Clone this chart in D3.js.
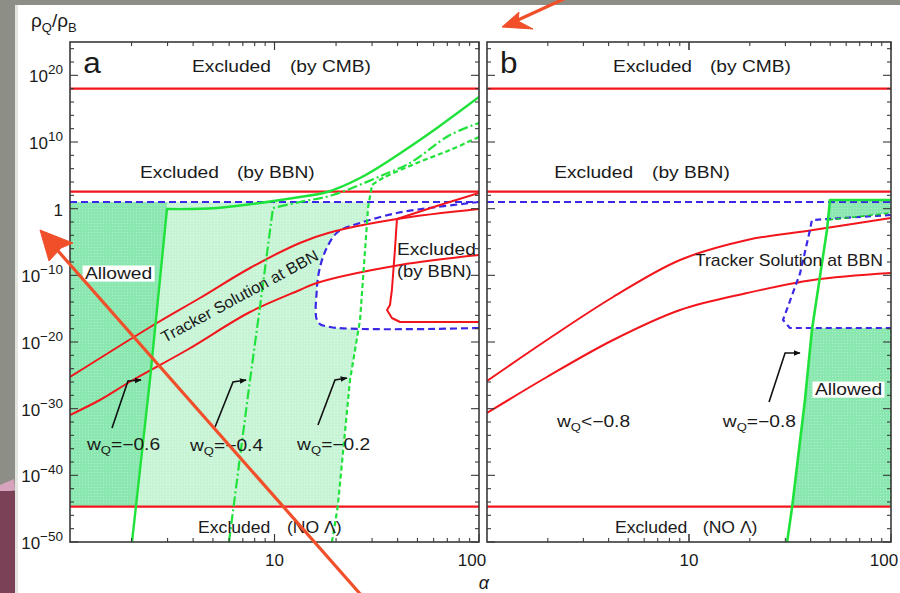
<!DOCTYPE html>
<html><head><meta charset="utf-8">
<script src="https://cdn.jsdelivr.net/npm/d3@7"></script>
<style>html,body{margin:0;padding:0;background:#8d8f86;} svg{display:block;}</style>
</head><body>
<svg id="c" width="900" height="593"></svg>
<script>
// ---- axis ticks ----
const yTickExps = [-50, -40, -30, -20, -10, 0, 10, 20];
const xTickLabels = [10, 100];

// ---- constraint levels, log10(rho_Q / rho_B) ----
const cmbLimit = 18;
const bbnLimit = 2.55;
const bbnBound = 1.0;     // blue dashed limit
const noLambda = -44.7;

// ---- panel a curves: [alpha, log10(rho_Q/rho_B)] ----
const trackerUpperA = [[1,-25.25],[2.66,-17.15],[4.32,-13.4],[7.59,-8.9],[13.3,-5.15],[18.3,-3.65],[39.7,-1.55],[100,-0.05]];
const trackerLowerA = [[1,-30.95],[1.40,-28.7],[2.03,-25.7],[3.73,-21.2],[7.59,-15.5],[13.3,-12.2],[16.1,-11.15],[41.1,-8.45],[100,-6.95]];
const bbnEdgeA = [[100,2.35],[64.4,0.55],[39.7,-1.55],[38.8,-6.2],[37.5,-12.2],[36.7,-14.45],[35.5,-15.2],[37.5,-16.4],[41.1,-17],[100,-17]];
const blueEdgeA = [[100,1.0],[62.3,0.25],[39.7,-0.65],[26.2,-2.15],[20.4,-3.5],[18.1,-5.75],[16.7,-8.75],[16.1,-12.2],[16.3,-17],[18.7,-17.75],[100,-17.9]];
// w_Q lines: steep rise, then the run above the BBN bound
const wq06 = [[2.01,-50],[2.46,-25.7],[2.98,-0.05],[5.23,0.1],[13.3,1.75],[18.1,2.5],[26.2,4.6],[36.7,7.3],[49.7,10],[62.3,12.1],[100,16.75]];
const wq04 = [[5.99,-50],[7.59,-25.7],[8.49,-14.75],[9.83,0.1],[13.3,1.0],[19.3,2.05],[33.9,5.05],[46.0,6.85],[72.1,11.05],[100,12.85]];
const wq02 = [[19.1,-50],[20.4,-44.6],[23.4,-25.7],[26.2,-16.7],[28.7,0.25],[30.0,3.55],[33.9,4.6],[49.7,6.85],[72.1,8.8],[100,10.75]];
const wq06Bend = 2, wq04Bend = 3, wq02Bend = 5;

// ---- panel b curves ----
const trackerUpperB = [[1,-25.85],[1.98,-19.7],[4.21,-13.25],[9.03,-7.7],[19.4,-4.7],[41.1,-3.2],[100,-1.4]];
const trackerLowerB = [[1,-30.65],[1.98,-25.25],[4.21,-19.7],[9.03,-15.2],[19.4,-12.65],[41.1,-10.7],[100,-9.65]];
const blueEdgeB = [[100,-0.95],[40.6,-1.7],[39.7,-3.2],[35.5,-9.65],[29.2,-16.7],[31.6,-17.9],[100,-17.9]];
const wq08 = [[30.6,-50],[32.4,-44.75],[37.5,-28.7],[40.6,-18.2],[48.2,-3.2],[49.9,1.3],[100,1.3]];
const greenDashB = [[48.8,-1.7],[100,-0.65]];

// ---- annotation arrows: tail, bend, head ----
const arrowsA = [
  [[1.605,-32.9],[1.921,-25.85],[2.225,-25.7]],
  [[5.12,-32.75],[6.27,-26.0],[7.26,-25.7]],
  [[16.32,-32.45],[19.76,-25.7],[22.6,-25.4]]
];
const arrowsB = [[[24.9,-29.0],[29.9,-21.65],[35.4,-21.65]]];

const svg = d3.select('#c');
const W = 900, H = 593;
const FONT = "'Liberation Sans', Arial, Helvetica, sans-serif";

// ---- backdrop: slide surface and paper ----
svg.append('rect').attr('width', W).attr('height', H).attr('fill', '#8d8f86');
svg.append('rect').attr('x', 17).attr('y', 5).attr('width', W - 17).attr('height', H - 5).attr('fill', '#ffffff');
svg.append('rect').attr('x', 15).attr('y', 5).attr('width', 3).attr('height', H).attr('fill', '#e4e4e0');
svg.append('path').attr('d', 'M0,485 L14,479 L15,490 L0,493 Z').attr('fill', '#d7a2bb');
svg.append('rect').attr('x', 0).attr('y', 491).attr('width', 15).attr('height', 102).attr('fill', '#7b4257');

const defs = svg.append('defs');
function stipple(id, base, dot) {
  const p = defs.append('pattern').attr('id', id).attr('patternUnits', 'userSpaceOnUse')
    .attr('width', 3).attr('height', 3);
  p.append('rect').attr('width', 3).attr('height', 3).attr('fill', base);
  p.append('rect').attr('x', 1).attr('y', 1).attr('width', 1).attr('height', 1).attr('fill', dot);
}
stipple('dark', '#8ae7af', '#acf0c7');
stipple('light', '#c8f4d6', '#def9e7');
defs.append('marker').attr('id', 'ah').attr('viewBox', '0 0 10 10').attr('refX', 9).attr('refY', 5)
  .attr('markerWidth', 7).attr('markerHeight', 7).attr('markerUnits', 'userSpaceOnUse').attr('orient', 'auto')
  .append('path').attr('d', 'M0,1 L10,5 L0,9 Z').attr('fill', '#111');
const blur = defs.append('filter').attr('id', 'soft');
blur.append('feGaussianBlur').attr('stdDeviation', 0.7);

const y = d3.scaleLinear().domain([-50, 25]).range([542, 42]);
const panels = [
  { id: 'a', x: d3.scaleLog().domain([1, 100]).range([70, 479]) },
  { id: 'b', x: d3.scaleLog().domain([1, 100]).range([487, 891]) }
];

const RED = '#f2161c', GREEN = '#1fe23a', BLUE = '#3a28e6';

function lineGen(x, curve) {
  return d3.line().x(d => x(d[0])).y(d => y(d[1])).curve(curve || d3.curveLinear);
}

function label(g, x, xv, yv, str, o = {}) {
  const size = o.size || 16, st = o.stretch || 1.2;
  const grp = g.append('g')
    .attr('transform', `translate(${x(xv)},${y(yv)}) rotate(${o.rotate || 0}) scale(${st},1)`);
  const t = grp.append('text').attr('font-family', FONT).attr('font-size', size).attr('fill', '#1a1a1a')
    .attr('text-anchor', o.anchor || 'start');
  if (o.sub) {
    t.append('tspan').text(str[0]);
    t.append('tspan').attr('font-size', size * 0.68).attr('dy', 4).text(str[1]);
    t.append('tspan').attr('dy', -4).text(str[2]);
  } else t.text(str);
  if (o.bg) {
    const b = t.node().getBBox();
    grp.insert('rect', 'text').attr('x', b.x - 2).attr('y', b.y + 1).attr('width', b.width + 4)
      .attr('height', b.height - 2).attr('fill', '#fff');
  }
  return grp;
}

panels.forEach(p => {
  const x = p.x;
  const [x0, x1] = x.range();
  const g = svg.append('g');
  const clipId = 'clip' + p.id;
  defs.append('clipPath').attr('id', clipId).append('rect')
    .attr('x', x0).attr('y', y(25)).attr('width', x1 - x0).attr('height', y(-50) - y(25));
  const inner = g.append('g').attr('clip-path', `url(#${clipId})`);
  const L = lineGen(x);
  const S = lineGen(x, d3.curveCatmullRom.alpha(0.5));

  if (p.id === 'a') {
    // allowed band between the BBN bound and the NO-Lambda bound
    const band = 'bandA';
    defs.append('clipPath').attr('id', band).append('rect')
      .attr('x', x0).attr('y', y(bbnBound)).attr('width', x1 - x0).attr('height', y(noLambda) - y(bbnBound));
    const bandG = inner.append('g').attr('clip-path', `url(#${band})`);
    const steep06 = wq06.slice(0, wq06Bend + 1);
    const steep02 = wq02.slice(0, wq02Bend + 1);
    const lightPoly = [...steep06, [steep06[wq06Bend][0], 25], [steep02[wq02Bend][0], 25], ...steep02.slice().reverse()];
    const darkPoly = [[1, 25], [steep06[wq06Bend][0], 25], ...steep06.slice().reverse(), [1, -50]];
    bandG.append('path').attr('d', L(lightPoly) + 'Z').attr('fill', 'url(#light)');
    bandG.append('path').attr('d', L(darkPoly) + 'Z').attr('fill', 'url(#dark)');
    inner.append('path').attr('d', S(blueEdgeA) + 'Z').attr('fill', '#fff');
  } else {
    const band = 'bandB';
    const lowTop = blueEdgeB[blueEdgeB.length - 1][1];
    defs.append('clipPath').attr('id', band).append('rect')
      .attr('x', x0).attr('y', y(lowTop)).attr('width', x1 - x0).attr('height', y(noLambda) - y(lowTop));
    const lowPoly = [...wq08.slice(0, 6), [100, wq08[5][1]], [100, -50]];
    inner.append('g').attr('clip-path', `url(#${band})`)
      .append('path').attr('d', L(lowPoly) + 'Z').attr('fill', 'url(#dark)');
    const topPatch = [wq08[5], wq08[6], ...greenDashB.slice().reverse()];
    inner.append('path').attr('d', L(topPatch) + 'Z').attr('fill', 'url(#dark)');
  }

  // horizontal limits
  const hl = (v, col, dash, w) => inner.append('path').attr('d', L([[1, v], [100, v]]))
    .attr('stroke', col).attr('stroke-width', w || 2).attr('fill', 'none').attr('stroke-dasharray', dash || null);
  hl(cmbLimit, RED, null, 2.2);
  hl(bbnLimit, RED, null, 2.2);
  hl(noLambda, RED, null, 2.2);
  hl(bbnBound, BLUE, '7,4', 2.2);

  const draw = (data, col, gen, dash, w) => inner.append('path').attr('d', gen(data)).attr('fill', 'none')
    .attr('stroke', col).attr('stroke-width', w || 2).attr('stroke-dasharray', dash || null)
    .attr('stroke-linejoin', 'round');
  // steep part straight, the run above it smooth
  const bent = (data, k) => L(data.slice(0, k + 1)) + S(data.slice(k)).replace(/^M[^A-Za-z]*/, '');

  if (p.id === 'a') {
    draw(blueEdgeA, BLUE, S, '7,4', 2.2);
    draw(trackerUpperA, RED, S, null, 2);
    draw(trackerLowerA, RED, S, null, 2);
    draw(bbnEdgeA, RED, L, null, 2);
    draw(wq06, GREEN, d => bent(d, wq06Bend), null, 2.4);
    draw(wq04, GREEN, d => bent(d, wq04Bend), '10,3,2,3', 2.2);
    draw(wq02, GREEN, d => bent(d, wq02Bend), '5,3', 2.2);
  } else {
    draw(trackerUpperB, RED, S, null, 2);
    draw(trackerLowerB, RED, S, null, 2);
    draw(blueEdgeB, BLUE, L, '6,4', 2.2);
    draw(greenDashB, '#18c832', L, '5,3', 1.6);
    draw([[100, -17.9], [100, noLambda]], '#18c832', L, '5,3', 1.6);
    draw(wq08, GREEN, L, null, 2.6);
  }

  // frame and inward ticks
  g.append('rect').attr('x', x0).attr('y', y(25)).attr('width', x1 - x0).attr('height', y(-50) - y(25))
    .attr('fill', 'none').attr('stroke', '#3a3a3a').attr('stroke-width', 1.6);
  const tk = g.append('g').attr('stroke', '#3a3a3a').attr('stroke-width', 1.1);
  for (let e = -50; e <= 24; e += 2) {
    const len = e % 10 === 0 ? 8 : 4;
    tk.append('line').attr('x1', x0).attr('x2', x0 + len).attr('y1', y(e)).attr('y2', y(e));
    tk.append('line').attr('x1', x1).attr('x2', x1 - len).attr('y1', y(e)).attr('y2', y(e));
  }
  [1, 10].forEach(dec => {
    for (let k = 1; k <= 10; k++) {
      const v = k * dec;
      if (v > 100 || (k === 1 && dec === 1)) continue;
      const len = (k === 1 || k === 10) ? 8 : 4;
      tk.append('line').attr('x1', x(v)).attr('x2', x(v)).attr('y1', y(-50)).attr('y2', y(-50) - len);
      tk.append('line').attr('x1', x(v)).attr('x2', x(v)).attr('y1', y(25)).attr('y2', y(25) + len);
    }
  });

  // x tick labels
  xTickLabels.forEach(v => {
    g.append('text').attr('x', x(v) - (v === 100 ? 7 : 0)).attr('y', 566).attr('text-anchor', 'middle')
      .attr('font-family', FONT).attr('font-size', 17).attr('fill', '#1a1a1a').text(v);
  });

  // y tick labels on the left panel only
  if (p.id === 'a') {
    yTickExps.forEach(e => {
      const t = g.append('text').attr('x', 63).attr('y', y(e) + 7).attr('text-anchor', 'end')
        .attr('font-family', FONT).attr('font-size', 17).attr('fill', '#1a1a1a');
      if (e === 0) { t.text('1'); return; }
      t.append('tspan').text('10');
      t.append('tspan').attr('dy', -8).attr('font-size', 13.5).text(e < 0 ? '\u2212' + (-e) : e);
    });
  }

  // text annotations
  label(g, x, 1.16, 20.35, p.id, { size: 30, stretch: 1.05 });
  if (p.id === 'a') {
    label(g, x, 3.95, 20.5, 'Excluded'); label(g, x, 11.9, 20.5, '(by CMB)');
    label(g, x, 2.2, 4.6, 'Excluded'); label(g, x, 6.55, 4.6, '(by BBN)');
    label(g, x, 4.23, -48.65, 'Excluded', { stretch: 1.1 }); label(g, x, 11.5, -48.65, '(NO \u039B)', { stretch: 1.1 });
    label(g, x, 39.7, -6.95, 'Excluded'); label(g, x, 39.7, -10.25, '(by BBN)', { stretch: 1.15 });
    label(g, x, 1.184, -10.55, 'Allowed', { bg: true });
    label(g, x, 2.91, -20.15, 'Tracker Solution at BBN', { rotate: -28.5, stretch: 1.03, size: 16 });
    label(g, x, 1.211, -36.2, ['w', 'Q', '=\u22120.6'], { sub: true });
    label(g, x, 3.86, -36.35, ['w', 'Q', '=\u22120.4'], { sub: true });
    label(g, x, 12.9, -36.2, ['w', 'Q', '=\u22120.2'], { sub: true });
    arrowsA.forEach(a => g.append('path').attr('d', L(a)).attr('fill', 'none').attr('stroke', '#111')
      .attr('stroke-width', 1.6).attr('marker-end', 'url(#ah)'));
  } else {
    label(g, x, 4.21, 20.5, 'Excluded'); label(g, x, 12.7, 20.5, '(by CMB)');
    label(g, x, 2.15, 4.6, 'Excluded'); label(g, x, 6.56, 4.6, '(by BBN)');
    label(g, x, 4.30, -48.65, 'Excluded', { stretch: 1.1 }); label(g, x, 11.7, -48.65, '(NO \u039B)', { stretch: 1.1 });
    label(g, x, 10.7, -8.6, 'Tracker Solution at BBN', { stretch: 1.1 });
    label(g, x, 42.0, -27.95, 'Allowed', { bg: true });
    label(g, x, 2.22, -32.75, ['w', 'Q', '<\u22120.8'], { sub: true });
    label(g, x, 14.7, -32.75, ['w', 'Q', '=\u22120.8'], { sub: true });
    arrowsB.forEach(a => g.append('path').attr('d', L(a)).attr('fill', 'none').attr('stroke', '#111')
      .attr('stroke-width', 1.6).attr('marker-end', 'url(#ah)'));
  }
});

// axis titles
const yt = svg.append('text').attr('x', 31).attr('y', 27).attr('font-family', FONT).attr('font-size', 19).attr('fill', '#1a1a1a');
yt.append('tspan').text('\u03C1');
yt.append('tspan').attr('dy', 5).attr('font-size', 13).text('Q');
yt.append('tspan').attr('dy', -5).text('/\u03C1');
yt.append('tspan').attr('dy', 5).attr('font-size', 13).text('B');
svg.append('text').attr('x', 484).attr('y', 589).attr('text-anchor', 'middle').attr('font-family', FONT)
  .attr('font-style', 'italic').attr('font-size', 18).attr('fill', '#1a1a1a').text('\u03B1');

// red pointer arrows drawn over the slide
const ptr = svg.append('g').attr('filter', 'url(#soft)').attr('fill', '#f0502c').attr('stroke', '#f0502c');
ptr.append('line').attr('x1', 362).attr('y1', 596).attr('x2', 44).attr('y2', 235).attr('stroke-width', 3.2);
ptr.append('path').attr('d', 'M40,230 L73,243 L61,248 L49,261 Z').attr('stroke-width', 1);
ptr.append('line').attr('x1', 566).attr('y1', -2).attr('x2', 507).attr('y2', 25).attr('stroke-width', 3.2);
ptr.append('path').attr('d', 'M502,27 L519,12 L518,21 L533,29 Z').attr('stroke-width', 1);
</script>
</body></html>
